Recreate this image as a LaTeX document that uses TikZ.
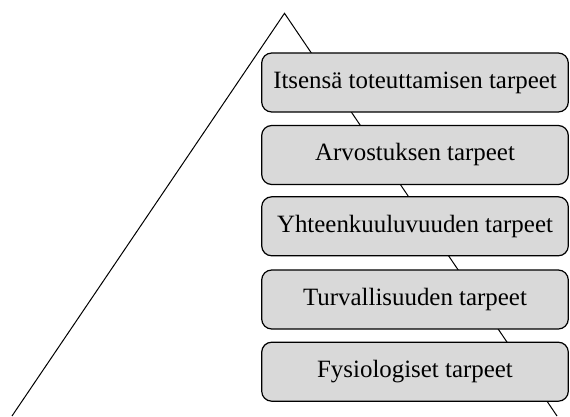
\documentclass[tikz,border=0pt]{standalone}
\usepackage{fontspec}
\setmainfont{Liberation Serif}
\begin{document}
\begin{tikzpicture}[x=1pt,y=1pt,
  needbox/.style={draw=black, line width=1.2pt, fill={rgb,255:red,217;green,217;blue,217},
    rounded corners=10pt, minimum width=306.6pt, minimum height=59pt, inner sep=0pt,
    font=\fontsize{24.9}{30}\selectfont}]
\useasboundingbox (0,0) rectangle (570,416);
\coordinate (apex) at (284.5,402.7);
\coordinate (baseL) at (12,0);
\coordinate (baseR) at (557,0);
\draw[line width=1pt] (baseL) -- (apex) -- (baseR);
\node[needbox] (n1) at (415,333.5) {Itsensä toteuttamisen tarpeet};
\node[needbox] (n2) at (415,261) {Arvostuksen tarpeet};
\node[needbox] (n3) at (415,189.7) {Yhteenkuuluvuuden tarpeet};
\node[needbox] (n4) at (415,116.5) {Turvallisuuden tarpeet};
\node[needbox] (n5) at (415,44.3) {Fysiologiset tarpeet};
\end{tikzpicture}
\end{document}
